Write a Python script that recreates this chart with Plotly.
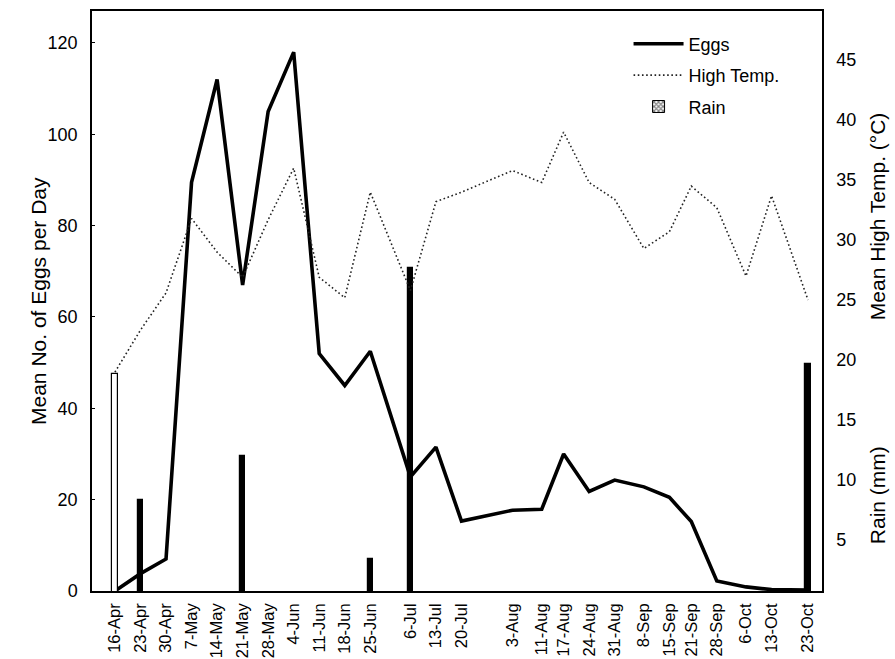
import plotly.graph_objects as go

# ---- data ----
dates = ["2001-04-16", "2001-04-23", "2001-04-30", "2001-05-07", "2001-05-14",
         "2001-05-21", "2001-05-28", "2001-06-04", "2001-06-11", "2001-06-18",
         "2001-06-25", "2001-07-06", "2001-07-13", "2001-07-20", "2001-08-03",
         "2001-08-11", "2001-08-17", "2001-08-24", "2001-08-31", "2001-09-08",
         "2001-09-15", "2001-09-21", "2001-09-28", "2001-10-06", "2001-10-13",
         "2001-10-23"]
tick_labels = ["16-Apr", "23-Apr", "30-Apr", "7-May", "14-May", "21-May", "28-May",
               "4-Jun", "11-Jun", "18-Jun", "25-Jun", "6-Jul", "13-Jul", "20-Jul",
               "3-Aug", "11-Aug", "17-Aug", "24-Aug", "31-Aug", "8-Sep", "15-Sep",
               "21-Sep", "28-Sep", "6-Oct", "13-Oct", "23-Oct"]
eggs = [0, 3.8, 7, 89.5, 112, 67, 105, 118, 52, 45, 52.5, 25, 31.5, 15.3,
        17.7, 17.9, 30, 21.8, 24.3, 22.8, 20.5, 15.2, 2.2, 0.9, 0.3, 0.2]
high_temp = [19, 22.5, 25.6, 31.8, 29, 26.9, 31.7, 36, 26.9, 25.2, 34, 25.8,
             33.2, 34, 35.8, 34.8, 39, 34.8, 33.4, 29.3, 30.7, 34.5, 32.7, 27,
             33.7, 25]
rain_dates = ["2001-04-16", "2001-04-23", "2001-05-21", "2001-06-25", "2001-07-06",
              "2001-10-23"]
rain = [18.8, 8.3, 12, 3.4, 27.7, 19.7]

right_ticks = [5, 10, 15, 20, 25, 30, 35, 40, 45]
left_ticks = [0, 20, 40, 60, 80, 100, 120]

FONT = "Arial, Liberation Sans, sans-serif"
BAR_W = 1.5 * 86400000
bar_colors = ["white"] + ["black"] * (len(rain) - 1)

fig = go.Figure()
# rain bars (solid), legend shown by a hatched legend-only entry below
fig.add_trace(go.Bar(
    x=rain_dates, y=rain, yaxis="y2", name="Rain", width=BAR_W,
    marker=dict(color=bar_colors, line=dict(color="black", width=1.2)),
    showlegend=False,
))
fig.add_trace(go.Scatter(
    x=dates, y=eggs, mode="lines", name="Eggs",
    line=dict(color="black", width=3.6), legendrank=1, legendgroup="a",
))
fig.add_trace(go.Scatter(
    x=dates, y=high_temp, mode="lines", name="High Temp.", yaxis="y2",
    line=dict(color="#222222", width=1.6, dash="1.6px,2.6px"),
    legendrank=2, legendgroup="b",
))
fig.add_trace(go.Bar(
    x=[None], y=[None], yaxis="y2", name="Rain",
    marker=dict(color="black", line=dict(color="black", width=1),
                pattern=dict(shape="x", fgcolor="black", bgcolor="white",
                             size=4, solidity=0.6)),
    legendrank=3, legendgroup="c",
))

fig.update_layout(
    width=895, height=659,
    margin=dict(l=92, r=73, t=11, b=68),
    paper_bgcolor="white", plot_bgcolor="white",
    font=dict(family=FONT, size=18, color="black"),
    showlegend=True,
    legend=dict(x=0.735, y=0.975, xanchor="left", yanchor="top",
                bgcolor="rgba(0,0,0,0)", font=dict(size=18),
                traceorder="grouped", tracegroupgap=5, itemwidth=50),
    bargap=0,
    xaxis=dict(
        type="date", range=["2001-04-09 17:00", "2001-10-26 20:00"],
        tickvals=dates, ticktext=tick_labels, tickangle=-90,
        tickfont=dict(size=16.5), showgrid=False, zeroline=False,
        showline=True, linecolor="black", linewidth=1.5, mirror=True,
        ticks="", ticklabelstandoff=4, automargin=False,
    ),
    yaxis=dict(
        range=[0, 127], tickvals=left_ticks, showgrid=False, zeroline=False,
        showline=True, linecolor="black", linewidth=1.5,
        ticks="inside", ticklen=3, tickcolor="black",
        tickfont=dict(size=18), ticklabelstandoff=9, automargin=False,
    ),
    yaxis2=dict(
        range=[0.75, 49.1], overlaying="y", side="right", tickvals=right_ticks,
        showgrid=False, zeroline=False, showline=True, linecolor="black",
        linewidth=1.5, ticks="", tickfont=dict(size=18), ticklabelstandoff=9,
        automargin=False,
    ),
    annotations=[
        dict(text="Mean No. of Eggs per Day", textangle=-90, xref="paper",
             yref="paper", x=-0.074, y=0.5, xanchor="center", yanchor="middle",
             showarrow=False, font=dict(size=21)),
        dict(text="Mean High Temp. (°C)", textangle=-90, xref="paper", yref="paper",
             x=1.076, y=0.647, xanchor="center", yanchor="middle",
             showarrow=False, font=dict(size=21)),
        dict(text="Rain (mm)", textangle=-90, xref="paper", yref="paper",
             x=1.076, y=0.166, xanchor="center", yanchor="middle",
             showarrow=False, font=dict(size=21)),
    ],
)

fig.write_html("out.html")
